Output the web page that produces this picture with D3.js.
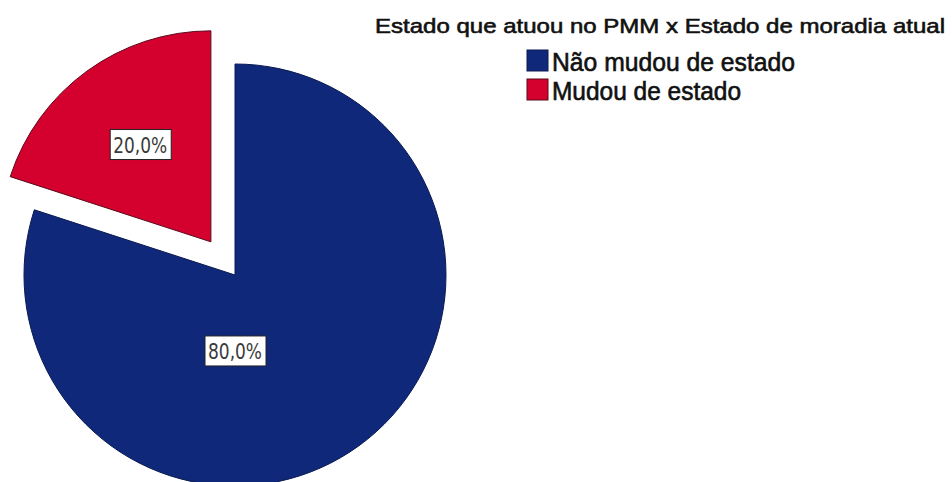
<!DOCTYPE html>
<html>
<head>
<meta charset="utf-8">
<script src="https://cdn.jsdelivr.net/npm/d3@7"></script>
<style>
  html, body { margin: 0; padding: 0; background: #ffffff; }
  svg { display: block; }
</style>
</head>
<body>
<svg id="chart" width="952" height="482"></svg>
<script>
// Share of physicians by state of residence change
const chartTitle = "Estado que atuou no PMM x Estado de moradia atual";
const categories = ["Não mudou de estado", "Mudou de estado"];
const percentages = [80.0, 20.0];
const sliceColors = ["#10287a", "#d4002d"];
const sliceStrokes = ["#0a1a50", "#5a0a1a"];
const explodedCategory = "Mudou de estado";

const width = 952, height = 482;
const svg = d3.select("#chart");

const cx = 235, cy = 275, radius = 211, explodeDist = 41;

const data = categories.map((c, i) => ({ category: c, value: percentages[i] }));

const pie = d3.pie().sort(null).value(d => d.value);
const arcs = pie(data);
const arc = d3.arc().innerRadius(0).outerRadius(radius);

const color = d3.scaleOrdinal().domain(categories).range(sliceColors);
const stroke = d3.scaleOrdinal().domain(categories).range(sliceStrokes);

const fmt = v => d3.format(".1f")(v).replace(".", ",") + "%";

function offset(d) {
  if (d.data.category !== explodedCategory) return [0, 0];
  const a = (d.startAngle + d.endAngle) / 2;
  return [Math.sin(a) * explodeDist, -Math.cos(a) * explodeDist];
}

// label anchor: slices spanning more than half the circle get their label straight below centre
function labelPos(d) {
  const span = d.endAngle - d.startAngle;
  const [ox, oy] = offset(d);
  let a, r;
  if (span > Math.PI) { a = Math.PI; r = radius * 0.36; }
  else { a = (d.startAngle + d.endAngle) / 2; r = radius * 0.57; }
  return [ox + Math.sin(a) * r, oy - Math.cos(a) * r];
}

const g = svg.append("g").attr("transform", `translate(${cx},${cy})`);

const slices = g.selectAll("g.slice").data(arcs).join("g")
  .attr("class", "slice")
  .attr("transform", d => `translate(${offset(d)})`);

slices.append("path")
  .attr("d", arc)
  .attr("fill", d => color(d.data.category))
  .attr("stroke", d => stroke(d.data.category))
  .attr("stroke-width", 1);

// value labels in white boxes
const labels = g.selectAll("g.lbl").data(arcs).join("g")
  .attr("class", "lbl")
  .attr("transform", d => `translate(${labelPos(d)})`);

labels.append("rect")
  .attr("x", -30).attr("y", -15).attr("width", 61).attr("height", 30)
  .attr("fill", "#ffffff").attr("stroke", "#222").attr("stroke-width", 1);

labels.append("text")
  .attr("text-anchor", "middle")
  .attr("y", 8)
  .attr("font-family", "'Liberation Sans Narrow', 'DejaVu Sans Condensed', 'Liberation Sans', sans-serif")
  .attr("font-size", 22)
  .attr("fill", "#3a3a3a")
  .attr("textLength", 54)
  .attr("lengthAdjust", "spacingAndGlyphs")
  .text(d => fmt(d.data.value));

// title (regular face, lightly thickened)
svg.append("text")
  .attr("x", 375).attr("y", 33)
  .attr("font-family", "'Liberation Sans', Arial, sans-serif")
  .attr("font-size", 21)
  .attr("fill", "#111")
  .attr("stroke", "#111").attr("stroke-width", 0.6)
  .attr("textLength", 570)
  .attr("lengthAdjust", "spacingAndGlyphs")
  .text(chartTitle);

// legend
const legendWidths = [243, 189];
const legend = svg.append("g").attr("transform", "translate(527,50)");
const items = legend.selectAll("g").data(categories).join("g")
  .attr("transform", (d, i) => `translate(0,${i * 29})`);
items.append("rect")
  .attr("width", 21).attr("height", 21)
  .attr("fill", d => color(d))
  .attr("stroke", d => stroke(d)).attr("stroke-width", 1);
items.append("text")
  .attr("x", 25).attr("y", 21)
  .attr("font-family", "'Liberation Sans', Arial, sans-serif")
  .attr("font-size", 25)
  .attr("fill", "#111")
  .attr("stroke", "#111").attr("stroke-width", 0.6)
  .attr("textLength", (d, i) => legendWidths[i])
  .attr("lengthAdjust", "spacingAndGlyphs")
  .text(d => d);
</script>
</body>
</html>
